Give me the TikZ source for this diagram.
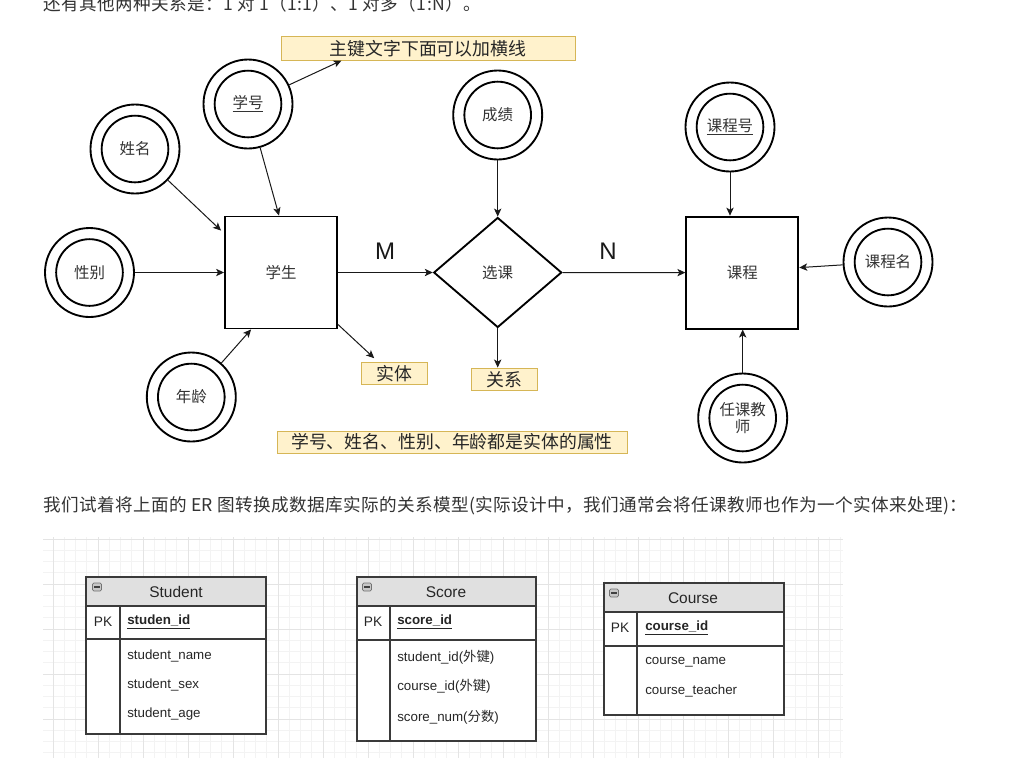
\documentclass[tikz,border=0pt]{standalone}
\usepackage{fontspec}
\setmainfont{Noto Sans CJK SC}
\newfontfamily\cjk{Noto Sans CJK SC}
\newfontfamily\cjkwide[LetterSpace=2.2]{Noto Sans CJK SC}
\newfontfamily\arial{Liberation Sans}
\usetikzlibrary{arrows.meta,shapes.geometric,calc}
\definecolor{txt}{HTML}{333333}
\definecolor{notefill}{HTML}{FFF2CC}
\definecolor{noteline}{HTML}{D6B656}
\definecolor{hdr}{HTML}{E0E0E0}
\definecolor{gridminor}{HTML}{F3F3F3}
\definecolor{gridmajor}{HTML}{E4E4E4}
\definecolor{tblline}{HTML}{3A3A3A}
\newcommand{\fsLabel}{\cjk\fontsize{11.6pt}{13pt}\selectfont}
\newcommand{\fsNote}{\cjk\fontsize{13.4pt}{16pt}\selectfont}
\newcommand{\fsPara}{\cjkwide\fontsize{13.2pt}{16pt}\selectfont}
\newcommand{\fsRow}{\arial\fontsize{10pt}{12pt}\selectfont}
\newcommand{\fsPK}{\arial\fontsize{10.3pt}{12pt}\selectfont}
\newcommand{\fsTitle}{\arial\fontsize{11.6pt}{14pt}\selectfont}
\newcommand{\fsMN}{\arial\fontsize{18pt}{20pt}\selectfont}
\tikzset{
  attr/.style={circle, draw, line width=1.4pt, minimum size=66.75pt, inner sep=0pt, font=\fsLabel, text=txt, align=center},
  ring/.style={circle, draw, line width=1.4pt, minimum size=50pt, inner sep=0pt},
  entity/.style={rectangle, draw, line width=1.4pt, minimum width=84pt, minimum height=84pt, inner sep=0pt, font=\fsLabel, text=txt},
  relation/.style={diamond, draw, line width=1.4pt, minimum width=96pt, minimum height=82.5pt, inner sep=0pt, font=\fsLabel, text=txt},
  note/.style={rectangle, draw=noteline, fill=notefill, line width=0.75pt, inner sep=0pt, font=\fsNote, text=black!85},
  arr/.style={draw=black!90, line width=0.75pt, -{Stealth[length=6pt, width=5.5pt, inset=1.5pt]}},
  para/.style={font=\fsPara, text=txt, inner sep=0pt, anchor=base west},
  mn/.style={font=\fsMN, text=black!90, inner sep=0pt},
  tbl/.style={draw=tblline, line width=1.1pt},
  ttitle/.style={font=\fsTitle, text=black!85, inner sep=0pt},
  trow/.style={font=\fsRow, text=black!85, inner sep=0pt, anchor=west},
  pk/.style={font=\fsPK, text=black!85, inner sep=0pt},
  icon/.style={rectangle, rounded corners=0.9pt, draw=black!55, fill=black!22, line width=0.55pt, minimum width=6.6pt, minimum height=6pt, inner sep=0pt,
    path picture={\draw[black!75, line width=0.8pt] ([xshift=1.4pt]path picture bounding box.west) -- ([xshift=-1.4pt]path picture bounding box.east);}}
}
\begin{document}
\begin{tikzpicture}[x=0.75pt, y=-0.75pt]
\useasboundingbox (0,0) rectangle (1027,758);
\fill[white] (0,0) rectangle (1027,758);

% top line of text (cut off at the top edge, as in the reference)
\node[para] (toptext) at (43,10) {还有其他两种关系是：1 对 1（1:1）、1 对多（1:N）。};

% ---------------- ER diagram ----------------
\node[entity] (stu) at (281,272.5) {学生};
\node[entity] (course) at (742.3,272.6) {课程};
\node[relation] (rel) at (497.7,272.5) {选课};

\node[attr] (xh) at (248,104) {\underline{学号}};
\node[ring] at (xh) {};
\node[attr] (xm) at (135,149) {姓名};
\node[ring] at (xm) {};
\node[attr] (xb) at (89.5,272.5) {性别};
\node[ring] at (xb) {};
\node[attr] (nl) at (191.3,397) {年龄};
\node[ring] at (nl) {};
\node[attr] (cj) at (497.7,115) {成绩};
\node[ring] at (cj) {};
\node[attr] (kch) at (730,127) {\underline{课程号}};
\node[ring] at (kch) {};
\node[attr] (kcm) at (888,262) {课程名};
\node[ring] at (kcm) {};
\node[attr] (rk) at (742.7,418) {任课教\\师};
\node[ring] at (rk) {};

\node[note, minimum width=220.5pt, minimum height=17.6pt] (title) at (428,48.3) {主键文字下面可以加横线};
\node[note, minimum width=49.5pt, minimum height=16.7pt] (shiti) at (394.7,373.8) {实体};
\node[note, minimum width=49.3pt, minimum height=17.2pt] (gx) at (504.8,379.5) {关系};
\node[note, minimum width=262.5pt, minimum height=16.5pt] (attrnote) at (452,442) {学号、姓名、性别、年龄都是实体的属性};

\draw[arr] (xh) -- ($(title.south west)+(61,0)$);
\draw[arr] (xh) -- ($(stu.north)+(-2,0)$);
\draw[arr] (xm) -- ($(stu.north west)+(-3,15)$);
\draw[arr] (xb) -- (stu.west);
\draw[arr] (nl) -- ($(stu.south west)+(27,0)$);
\draw[arr] ($(stu.south east)+(0,-5)$) -- ($(shiti.north west)+(13,-4)$);
\draw[arr] (stu.east) -- (rel.west);
\node[mn] (labM) at (385,251) {M};
\draw[arr] (cj) -- (rel.north);
\draw[arr] (rel.south) -- (rel.south |- gx.north);
\draw[arr] (rel.east) -- (course.west);
\node[mn] (labN) at (608,251) {N};
\draw[arr] (kch) -- (kch |- course.north);
\draw[arr] (kcm) -- ($(course.east)+(0,-5)$);
\draw[arr] (rk) -- (rk |- course.south);

% paragraph
\node[para] (para) at (43,511) {我们试着将上面的 ER 图转换成数据库实际的关系模型(实际设计中，我们通常会将任课教师也作为一个实体来处理)：};

% ---------------- grid ----------------
\begin{scope}
\clip (43,537) rectangle (843,758);
\foreach \i in {0,...,72} {\draw[gridminor, line width=0.75pt] ({41.75+11.25*\i},537) -- ({41.75+11.25*\i},758);}
\foreach \j in {0,...,20} {\draw[gridminor, line width=0.75pt] (43,{539+11.25*\j}) -- (843,{539+11.25*\j});}
\foreach \i in {0,...,17} {\draw[gridmajor, line width=0.75pt] ({53+45*\i},537) -- ({53+45*\i},758);}
\foreach \j in {0,...,5} {\draw[gridmajor, line width=0.75pt] (43,{539+45*\j}) -- (843,{539+45*\j});}
\end{scope}

% ---------------- tables ----------------
% Student
\fill[white] (86,577) rectangle (266,734);
\fill[hdr] (86,577) rectangle (266,606);
\draw[tbl] (86,577) rectangle (266,734);
\draw[tbl] (86,606) -- (266,606);
\draw[tbl] (86,639) -- (266,639);
\draw[tbl] (120,606) -- (120,734);
\node[icon] (iconA) at (97,587) {};
\node[ttitle] (tStudent) at (176,592) {Student};
\node[pk] (pkA) at (103,622) {PK};
\node[trow] (sid) at (127,622) {\textbf{\underline{studen\_id}}};
\node[trow] (sname) at (127,656) {student\_name};
\node[trow] (ssex) at (127,685) {student\_sex};
\node[trow] (sage) at (127,714) {student\_age};

% Score
\fill[white] (357,577) rectangle (536,741);
\fill[hdr] (357,577) rectangle (536,606);
\draw[tbl] (357,577) rectangle (536,741);
\draw[tbl] (357,606) -- (536,606);
\draw[tbl] (357,640) -- (536,640);
\draw[tbl] (390,606) -- (390,741);
\node[icon] (iconB) at (367,587) {};
\node[ttitle] (tScore) at (446,592) {Score};
\node[pk] (pkB) at (373,622) {PK};
\node[trow] (scid) at (397,622) {\textbf{\underline{score\_id}}};
\node[trow] (scsid) at (397,657) {student\_id({\cjk 外键})};
\node[trow] (sccid) at (397,686) {course\_id({\cjk 外键})};
\node[trow] (scnum) at (397,717) {score\_num({\cjk 分数})};

% Course
\fill[white] (604,583) rectangle (784,715);
\fill[hdr] (604,583) rectangle (784,612);
\draw[tbl] (604,583) rectangle (784,715);
\draw[tbl] (604,612) -- (784,612);
\draw[tbl] (604,646) -- (784,646);
\draw[tbl] (637,612) -- (637,715);
\node[icon] (iconC) at (614,593) {};
\node[ttitle] (tCourse) at (693,598) {Course};
\node[pk] (pkC) at (620,628) {PK};
\node[trow] (cid) at (645,628) {\textbf{\underline{course\_id}}};
\node[trow] (cname) at (645,662) {course\_name};
\node[trow] (cteacher) at (645,691) {course\_teacher};
\end{tikzpicture}
\end{document}
